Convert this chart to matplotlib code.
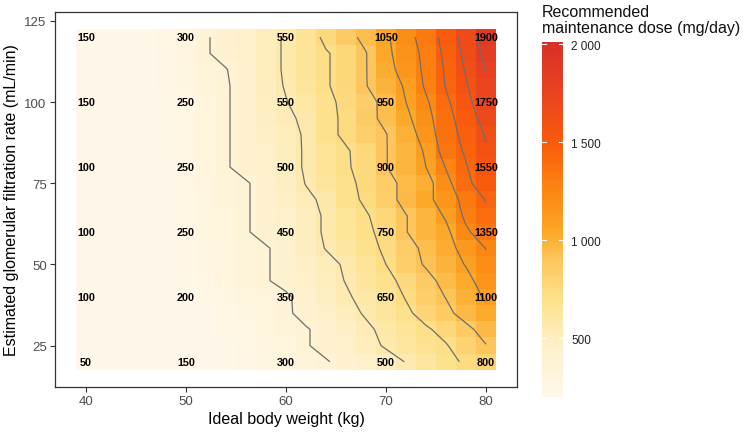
import numpy as np
import matplotlib.pyplot as plt
from matplotlib.colors import LinearSegmentedColormap, Normalize
from matplotlib.cm import ScalarMappable
from matplotlib.ticker import FuncFormatter

plt.rcParams['font.family'] = ['Liberation Sans', 'DejaVu Sans']

# tile grid: ideal body weight (kg) x eGFR (mL/min)
ibw = [40, 42, 44, 46, 48, 50, 52, 54, 56, 58, 60, 62, 64, 66, 68, 70, 72, 74, 76, 78, 80]
egfr = [20, 25, 30, 35, 40, 45, 50, 55, 60, 65, 70, 75, 80, 85, 90, 95, 100, 105, 110, 115, 120]

# estimated maintenance dose per tile (rows follow egfr, columns follow ibw)
dose = [
    [50, 60, 70, 90, 120, 150, 180, 210, 240, 270, 300, 340, 370, 420, 460, 500, 560, 620, 690, 750, 800],
    [60, 70, 90, 110, 130, 160, 190, 220, 250, 290, 320, 370, 420, 460, 510, 570, 620, 680, 720, 810, 900],
    [70, 80, 100, 120, 140, 170, 200, 230, 260, 300, 330, 370, 420, 470, 530, 590, 650, 710, 780, 870, 960],
    [80, 90, 110, 130, 150, 190, 220, 250, 280, 310, 360, 420, 460, 510, 570, 630, 700, 790, 870, 960, 1030],
    [100, 100, 110, 130, 160, 200, 230, 260, 290, 320, 360, 430, 480, 540, 590, 650, 740, 830, 910, 1000, 1100],
    [100, 100, 120, 140, 170, 220, 260, 290, 330, 370, 420, 460, 510, 560, 630, 700, 760, 860, 950, 1030, 1160],
    [100, 100, 120, 150, 180, 230, 270, 300, 340, 370, 420, 470, 520, 570, 650, 730, 840, 920, 990, 1090, 1210],
    [100, 110, 130, 150, 180, 240, 270, 300, 340, 370, 420, 500, 560, 620, 690, 750, 850, 940, 1020, 1140, 1260],
    [100, 110, 130, 160, 190, 250, 280, 320, 370, 420, 450, 510, 570, 640, 710, 760, 900, 980, 1040, 1230, 1340],
    [100, 110, 130, 160, 190, 250, 280, 320, 370, 420, 460, 510, 570, 640, 720, 780, 900, 980, 1100, 1290, 1390],
    [100, 120, 140, 160, 190, 250, 280, 330, 370, 420, 470, 530, 580, 690, 750, 840, 960, 1040, 1150, 1320, 1440],
    [100, 120, 140, 160, 190, 250, 290, 340, 370, 420, 480, 560, 630, 700, 760, 850, 950, 1010, 1200, 1400, 1500],
    [100, 120, 140, 170, 200, 250, 310, 370, 420, 460, 500, 570, 650, 720, 760, 900, 980, 1080, 1265, 1420, 1550],
    [140, 150, 170, 180, 210, 250, 310, 370, 420, 460, 500, 570, 650, 720, 770, 900, 980, 1100, 1340, 1450, 1590],
    [140, 150, 170, 190, 210, 250, 310, 370, 420, 470, 510, 570, 700, 750, 830, 900, 1000, 1150, 1370, 1470, 1620],
    [150, 160, 170, 190, 220, 250, 320, 370, 420, 480, 530, 580, 700, 750, 860, 940, 1040, 1190, 1380, 1500, 1690],
    [150, 160, 170, 190, 220, 250, 320, 370, 420, 490, 550, 610, 700, 760, 850, 950, 1080, 1230, 1400, 1550, 1730],
    [150, 160, 170, 190, 230, 270, 330, 370, 420, 500, 565, 640, 720, 770, 900, 990, 1100, 1280, 1440, 1590, 1750],
    [150, 160, 170, 200, 240, 280, 340, 375, 440, 510, 570, 650, 720, 770, 900, 1020, 1150, 1290, 1450, 1620, 1790],
    [150, 160, 180, 200, 240, 290, 370, 420, 460, 510, 570, 650, 720, 770, 900, 1040, 1170, 1300, 1470, 1650, 1820],
    [150, 160, 180, 210, 250, 300, 370, 420, 460, 510, 570, 660, 760, 860, 940, 1050, 1200, 1320, 1500, 1680, 1880],
]

# printed doses
label_ibw = [40, 50, 60, 70, 80]
label_egfr = [20, 40, 60, 80, 100, 120]
label_dose = [
    [50, 150, 300, 500, 800],
    [100, 200, 350, 650, 1100],
    [100, 250, 450, 750, 1350],
    [100, 250, 500, 900, 1550],
    [150, 250, 550, 950, 1750],
    [150, 300, 550, 1050, 1900],
]

contour_levels = [380, 555, 730, 905, 1080, 1255, 1430, 1605, 1780]
cbar_ticks = [500, 1000, 1500, 2000]

vmin, vmax = 200, 2010
stops = [(200, '#FFF8EA'), (450, '#FEF0CB'), (700, '#FDE18B'), (900, '#FDC65C'),
         (1050, '#FCA624'), (1250, '#FB8712'), (1500, '#F95A0B'), (1750, '#EA4420'),
         (2010, '#D73027')]
cmap = LinearSegmentedColormap.from_list(
    'dose', [((v - vmin) / (vmax - vmin), c) for v, c in stops])
norm = Normalize(vmin=vmin, vmax=vmax, clip=True)

x = np.array(ibw, dtype=float)
y = np.array(egfr, dtype=float)
z = np.array(dose, dtype=float)
xe = np.append(x - 1, x[-1] + 1)
ye = np.append(y - 2.5, y[-1] + 2.5)

W, H = 746, 435
fig = plt.figure(figsize=(W / 100, H / 100), dpi=100)
ax = fig.add_axes([55 / W, 1 - 388 / H, (517 - 55) / W, (388 - 13) / H])

ax.pcolormesh(xe, ye, z, cmap=cmap, norm=norm, shading='flat', antialiased=False)
ax.contour(x, y, z, levels=contour_levels, colors='#6e6e6e', linewidths=0.9)

for i, yy in enumerate(label_egfr):
    for j, xx in enumerate(label_ibw):
        ax.text(xx, yy, str(label_dose[i][j]), ha='center', va='center',
                fontsize=7.8, fontweight='bold', color='black')

ax.set_xlim(36.9, 83.1)
ax.set_ylim(12.25, 127.75)
ax.set_xticks([40, 50, 60, 70, 80])
ax.set_yticks([25, 50, 75, 100, 125])
ax.tick_params(colors='#333333', labelcolor='#4d4d4d', length=3.5, width=0.8,
               labelsize=9.5, pad=2.5)
for s in ax.spines.values():
    s.set_color('#333333')
    s.set_linewidth(0.9)
ax.set_xlabel('Ideal body weight (kg)', fontsize=11.5, labelpad=3)
ax.set_ylabel('Estimated glomerular filtration rate (mL/min)', fontsize=11.5, labelpad=4)

cax = fig.add_axes([542 / W, 1 - 398.3 / H, 21 / W, 355 / H])
cb = fig.colorbar(ScalarMappable(norm=norm, cmap=cmap), cax=cax, ticks=cbar_ticks)
cb.outline.set_visible(False)
cax.tick_params(length=0, labelsize=8.5, pad=6, labelcolor='#222222')
cax.yaxis.set_major_formatter(FuncFormatter(lambda v, _: f'{int(v):,}'.replace(',', ' ')))
for t in cbar_ticks:
    cax.plot([0, 0.2], [t, t], color='white', lw=0.8)
    cax.plot([0.8, 1], [t, t], color='white', lw=0.8)

fig.text(542 / W, 1 - 5 / H, 'Recommended\nmaintenance dose (mg/day)', ha='left', va='top',
         fontsize=11.5, linespacing=1.1, color='#111111')

fig.savefig('out.png', dpi=100)
